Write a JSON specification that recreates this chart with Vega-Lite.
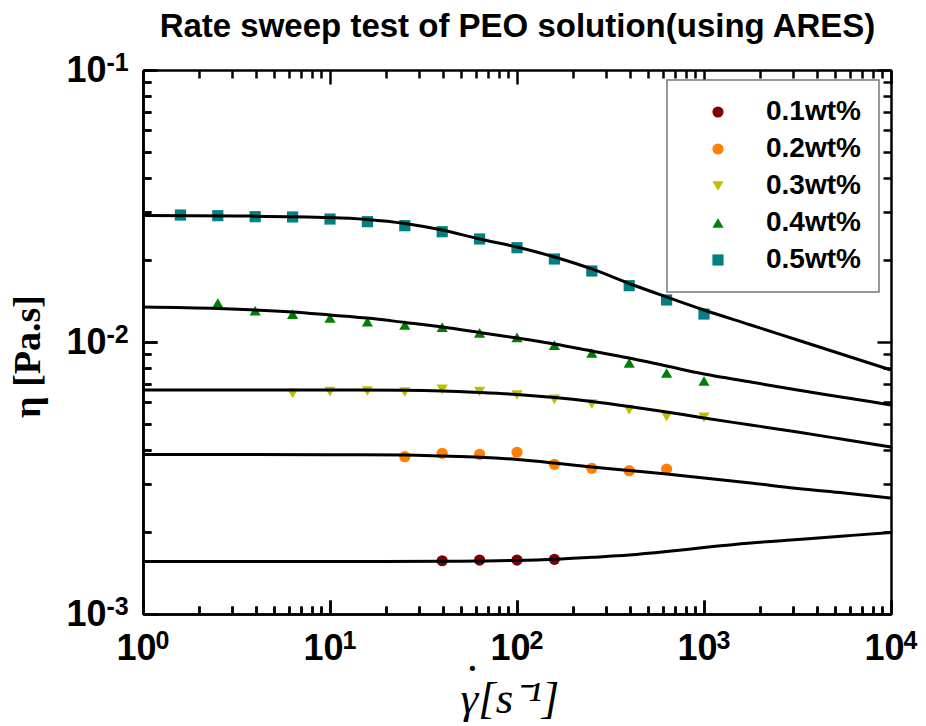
{
  "$schema": "https://vega.github.io/schema/vega-lite/v6.json",
  "width": 748,
  "height": 544,
  "autosize": {"type": "none"},
  "padding": {"left": 143, "top": 70, "right": 35, "bottom": 112},
  "background": "white",
  "datasets": {
    "fit": [
      {"series": "0.5wt%", "x": 1, "eta": 0.02918},
      {"series": "0.5wt%", "x": 3.162, "eta": 0.02906},
      {"series": "0.5wt%", "x": 10, "eta": 0.02869},
      {"series": "0.5wt%", "x": 15.85, "eta": 0.02821},
      {"series": "0.5wt%", "x": 25.12, "eta": 0.02727},
      {"series": "0.5wt%", "x": 39.81, "eta": 0.0258},
      {"series": "0.5wt%", "x": 63.1, "eta": 0.02392},
      {"series": "0.5wt%", "x": 100, "eta": 0.02235},
      {"series": "0.5wt%", "x": 158.5, "eta": 0.02054},
      {"series": "0.5wt%", "x": 251.2, "eta": 0.01856},
      {"series": "0.5wt%", "x": 398.1, "eta": 0.01641},
      {"series": "0.5wt%", "x": 631, "eta": 0.01464},
      {"series": "0.5wt%", "x": 1000, "eta": 0.01311},
      {"series": "0.5wt%", "x": 1778, "eta": 0.01155},
      {"series": "0.5wt%", "x": 3162, "eta": 0.01017},
      {"series": "0.5wt%", "x": 5623, "eta": 0.008957},
      {"series": "0.5wt%", "x": 10000, "eta": 0.007892},
      {"series": "0.4wt%", "x": 1, "eta": 0.01345},
      {"series": "0.4wt%", "x": 2.512, "eta": 0.01328},
      {"series": "0.4wt%", "x": 6.31, "eta": 0.01289},
      {"series": "0.4wt%", "x": 10, "eta": 0.01257},
      {"series": "0.4wt%", "x": 15.85, "eta": 0.01225},
      {"series": "0.4wt%", "x": 25.12, "eta": 0.0118},
      {"series": "0.4wt%", "x": 39.81, "eta": 0.01135},
      {"series": "0.4wt%", "x": 63.1, "eta": 0.01084},
      {"series": "0.4wt%", "x": 100, "eta": 0.01034},
      {"series": "0.4wt%", "x": 158.5, "eta": 0.009831},
      {"series": "0.4wt%", "x": 251.2, "eta": 0.009267},
      {"series": "0.4wt%", "x": 398.1, "eta": 0.008732},
      {"series": "0.4wt%", "x": 631, "eta": 0.00816},
      {"series": "0.4wt%", "x": 1000, "eta": 0.007627},
      {"series": "0.4wt%", "x": 1778, "eta": 0.007126},
      {"series": "0.4wt%", "x": 3162, "eta": 0.006661},
      {"series": "0.4wt%", "x": 5623, "eta": 0.006252},
      {"series": "0.4wt%", "x": 10000, "eta": 0.005868},
      {"series": "0.3wt%", "x": 1, "eta": 0.006661},
      {"series": "0.3wt%", "x": 10, "eta": 0.006661},
      {"series": "0.3wt%", "x": 25.12, "eta": 0.006644},
      {"series": "0.3wt%", "x": 39.81, "eta": 0.006606},
      {"series": "0.3wt%", "x": 63.1, "eta": 0.006521},
      {"series": "0.3wt%", "x": 100, "eta": 0.006412},
      {"series": "0.3wt%", "x": 158.5, "eta": 0.006252},
      {"series": "0.3wt%", "x": 251.2, "eta": 0.006043},
      {"series": "0.3wt%", "x": 398.1, "eta": 0.005794},
      {"series": "0.3wt%", "x": 631, "eta": 0.005529},
      {"series": "0.3wt%", "x": 1000, "eta": 0.005254},
      {"series": "0.3wt%", "x": 1778, "eta": 0.004954},
      {"series": "0.3wt%", "x": 3162, "eta": 0.004667},
      {"series": "0.3wt%", "x": 5623, "eta": 0.004381},
      {"series": "0.3wt%", "x": 10000, "eta": 0.004111},
      {"series": "0.2wt%", "x": 1, "eta": 0.003859},
      {"series": "0.2wt%", "x": 10, "eta": 0.003853},
      {"series": "0.2wt%", "x": 25.12, "eta": 0.003843},
      {"series": "0.2wt%", "x": 39.81, "eta": 0.00381},
      {"series": "0.2wt%", "x": 63.1, "eta": 0.003769},
      {"series": "0.2wt%", "x": 100, "eta": 0.003698},
      {"series": "0.2wt%", "x": 158.5, "eta": 0.00359},
      {"series": "0.2wt%", "x": 251.2, "eta": 0.00347},
      {"series": "0.2wt%", "x": 398.1, "eta": 0.00337},
      {"series": "0.2wt%", "x": 631, "eta": 0.003271},
      {"series": "0.2wt%", "x": 1000, "eta": 0.003162},
      {"series": "0.2wt%", "x": 1778, "eta": 0.00303},
      {"series": "0.2wt%", "x": 3162, "eta": 0.002893},
      {"series": "0.2wt%", "x": 5623, "eta": 0.002785},
      {"series": "0.2wt%", "x": 10000, "eta": 0.00267},
      {"series": "0.1wt%", "x": 1, "eta": 0.00156},
      {"series": "0.1wt%", "x": 10, "eta": 0.00156},
      {"series": "0.1wt%", "x": 39.81, "eta": 0.001562},
      {"series": "0.1wt%", "x": 63.1, "eta": 0.001566},
      {"series": "0.1wt%", "x": 100, "eta": 0.001573},
      {"series": "0.1wt%", "x": 158.5, "eta": 0.001589},
      {"series": "0.1wt%", "x": 251.2, "eta": 0.001616},
      {"series": "0.1wt%", "x": 398.1, "eta": 0.001648},
      {"series": "0.1wt%", "x": 631, "eta": 0.001697},
      {"series": "0.1wt%", "x": 1000, "eta": 0.001756},
      {"series": "0.1wt%", "x": 1778, "eta": 0.001824},
      {"series": "0.1wt%", "x": 3162, "eta": 0.001879},
      {"series": "0.1wt%", "x": 5623, "eta": 0.001936},
      {"series": "0.1wt%", "x": 10000, "eta": 0.001994}
    ],
    "meas": [
      {"series": "0.1wt%", "x": 39.81, "eta": 0.00157},
      {"series": "0.1wt%", "x": 63.1, "eta": 0.001579},
      {"series": "0.1wt%", "x": 100, "eta": 0.001579},
      {"series": "0.1wt%", "x": 158.5, "eta": 0.001589},
      {"series": "0.2wt%", "x": 25.12, "eta": 0.003787},
      {"series": "0.2wt%", "x": 39.81, "eta": 0.003898},
      {"series": "0.2wt%", "x": 63.1, "eta": 0.003865},
      {"series": "0.2wt%", "x": 100, "eta": 0.003932},
      {"series": "0.2wt%", "x": 158.5, "eta": 0.003551},
      {"series": "0.2wt%", "x": 251.2, "eta": 0.003433},
      {"series": "0.2wt%", "x": 398.1, "eta": 0.003364},
      {"series": "0.2wt%", "x": 631, "eta": 0.003412},
      {"series": "0.3wt%", "x": 6.31, "eta": 0.006477},
      {"series": "0.3wt%", "x": 10, "eta": 0.006566},
      {"series": "0.3wt%", "x": 15.85, "eta": 0.006605},
      {"series": "0.3wt%", "x": 25.12, "eta": 0.006549},
      {"series": "0.3wt%", "x": 39.81, "eta": 0.0067},
      {"series": "0.3wt%", "x": 63.1, "eta": 0.006566},
      {"series": "0.3wt%", "x": 100, "eta": 0.006384},
      {"series": "0.3wt%", "x": 158.5, "eta": 0.006154},
      {"series": "0.3wt%", "x": 251.2, "eta": 0.005916},
      {"series": "0.3wt%", "x": 398.1, "eta": 0.005623},
      {"series": "0.3wt%", "x": 631, "eta": 0.005313},
      {"series": "0.3wt%", "x": 1000, "eta": 0.005286},
      {"series": "0.4wt%", "x": 2.512, "eta": 0.01391},
      {"series": "0.4wt%", "x": 3.981, "eta": 0.01303},
      {"series": "0.4wt%", "x": 6.31, "eta": 0.01267},
      {"series": "0.4wt%", "x": 10, "eta": 0.01225},
      {"series": "0.4wt%", "x": 15.85, "eta": 0.01187},
      {"series": "0.4wt%", "x": 25.12, "eta": 0.01155},
      {"series": "0.4wt%", "x": 39.81, "eta": 0.01135},
      {"series": "0.4wt%", "x": 63.1, "eta": 0.01081},
      {"series": "0.4wt%", "x": 100, "eta": 0.0104},
      {"series": "0.4wt%", "x": 158.5, "eta": 0.00974},
      {"series": "0.4wt%", "x": 251.2, "eta": 0.00911},
      {"series": "0.4wt%", "x": 398.1, "eta": 0.00838},
      {"series": "0.4wt%", "x": 631, "eta": 0.00769},
      {"series": "0.4wt%", "x": 1000, "eta": 0.00719},
      {"series": "0.5wt%", "x": 1.585, "eta": 0.0293},
      {"series": "0.5wt%", "x": 2.512, "eta": 0.02913},
      {"series": "0.5wt%", "x": 3.981, "eta": 0.02889},
      {"series": "0.5wt%", "x": 6.31, "eta": 0.02882},
      {"series": "0.5wt%", "x": 10, "eta": 0.02832},
      {"series": "0.5wt%", "x": 15.85, "eta": 0.02769},
      {"series": "0.5wt%", "x": 25.12, "eta": 0.02677},
      {"series": "0.5wt%", "x": 39.81, "eta": 0.02544},
      {"series": "0.5wt%", "x": 63.1, "eta": 0.02392},
      {"series": "0.5wt%", "x": 100, "eta": 0.02222},
      {"series": "0.5wt%", "x": 158.5, "eta": 0.02019},
      {"series": "0.5wt%", "x": 251.2, "eta": 0.01824},
      {"series": "0.5wt%", "x": 398.1, "eta": 0.01611},
      {"series": "0.5wt%", "x": 631, "eta": 0.01427},
      {"series": "0.5wt%", "x": 1000, "eta": 0.01267}
    ]
  },
  "layer": [
    {
      "data": {"name": "meas"},
      "mark": {"type": "point", "filled": true, "opacity": 1},
      "encoding": {
        "x": {
          "field": "x", "type": "quantitative",
          "scale": {"type": "log", "domain": [1, 10000]},
          "axis": {
            "orient": "top", "labels": false,
            "values": [1,2,3,4,5,6,7,8,9,10,20,30,40,50,60,70,80,90,100,200,300,400,500,600,700,800,900,1000,2000,3000,4000,5000,6000,7000,8000,9000,10000],
            "tickSize": {"condition": {"test": "abs(log(datum.value)/LN10 - round(log(datum.value)/LN10)) < 1e-6", "value": -14}, "value": -8},
            "title": "Rate sweep test of PEO solution(using ARES)",
            "titleFont": "Liberation Sans",
            "titleFontSize": 33,
            "titleFontWeight": "bold",
            "titleAlign": "center",
            "titleBaseline": "alphabetic",
            "titleX": 374,
            "titleY": -34
          }
        },
        "y": {
          "field": "eta", "type": "quantitative",
          "scale": {"type": "log", "domain": [0.001, 0.1]},
          "axis": {
            "orient": "right", "labels": false, "title": null,
            "values": [0.001,0.002,0.003,0.004,0.005,0.006,0.007,0.008,0.009,0.01,0.02,0.03,0.04,0.05,0.06,0.07,0.08,0.09,0.1],
            "tickSize": {"condition": {"test": "abs(log(datum.value)/LN10 - round(log(datum.value)/LN10)) < 1e-6", "value": -14}, "value": -8}
          }
        },
        "color": {
          "field": "series", "type": "nominal",
          "scale": {"domain": ["0.1wt%", "0.2wt%", "0.3wt%", "0.4wt%", "0.5wt%"], "range": ["#7f0000", "#ff8000", "#bfbf00", "#008000", "#008080"]},
          "legend": {"title": null, "orient": "none", "legendX": 524, "legendY": 10}
        },
        "shape": {
          "field": "series", "type": "nominal",
          "scale": {"domain": ["0.1wt%", "0.2wt%", "0.3wt%", "0.4wt%", "0.5wt%"], "range": ["circle", "circle", "triangle-down", "triangle-up", "square"]},
          "legend": {"title": null, "orient": "none", "legendX": 524, "legendY": 10}
        },
        "size": {
          "field": "series", "type": "nominal",
          "scale": {"domain": ["0.1wt%", "0.2wt%", "0.3wt%", "0.4wt%", "0.5wt%"], "range": [125, 125, 190, 190, 160]},
          "legend": null
        }
      }
    },
    {
      "data": {"name": "meas"},
      "mark": {"type": "point", "filled": true, "opacity": 0},
      "encoding": {
        "x": {
          "field": "x", "type": "quantitative",
          "scale": {"type": "log", "domain": [1, 10000]},
          "axis": {
            "orient": "bottom",
            "values": [1,2,3,4,5,6,7,8,9,10,20,30,40,50,60,70,80,90,100,200,300,400,500,600,700,800,900,1000,2000,3000,4000,5000,6000,7000,8000,9000,10000],
            "labelExpr": "abs(log(datum.value)/LN10 - round(log(datum.value)/LN10)) < 1e-6 ? '' + round(log(datum.value)/LN10) : ''",
            "tickSize": {"condition": {"test": "abs(log(datum.value)/LN10 - round(log(datum.value)/LN10)) < 1e-6", "value": -14}, "value": -8},
            "labelFontSize": 25,
            "labelAlign": "left",
            "labelOffset": 12,
            "labelPadding": 28,
            "title": ".",
            "titleFont": "Liberation Serif",
            "titleFontStyle": "italic",
            "titleFontWeight": "normal",
            "titleFontSize": 44,
            "titleBaseline": "alphabetic",
            "titleAlign": "center",
            "titleX": 330,
            "titleY": 56
          }
        },
        "y": {
          "field": "eta", "type": "quantitative",
          "scale": {"type": "log", "domain": [0.001, 0.1]},
          "axis": {
            "orient": "left", "title": null,
            "values": [0.001,0.002,0.003,0.004,0.005,0.006,0.007,0.008,0.009,0.01,0.02,0.03,0.04,0.05,0.06,0.07,0.08,0.09,0.1],
            "labelExpr": "abs(log(datum.value)/LN10 - round(log(datum.value)/LN10)) < 1e-6 ? '' + round(log(datum.value)/LN10) : ''",
            "tickSize": {"condition": {"test": "abs(log(datum.value)/LN10 - round(log(datum.value)/LN10)) < 1e-6", "value": -14}, "value": -8},
            "labelFontSize": 25,
            "labelAlign": "left",
            "labelOffset": -8,
            "labelPadding": 51
          }
        }
      }
    },
    {
      "data": {"name": "fit"},
      "mark": {"type": "line", "color": "black", "strokeWidth": 3, "interpolate": "monotone"},
      "encoding": {
        "x": {
          "field": "x", "type": "quantitative",
          "scale": {"type": "log", "domain": [1, 10000]},
          "axis": {
            "orient": "bottom",
            "values": [1,2,3,4,5,6,7,8,9,10,20,30,40,50,60,70,80,90,100,200,300,400,500,600,700,800,900,1000,2000,3000,4000,5000,6000,7000,8000,9000,10000],
            "labelExpr": "abs(log(datum.value)/LN10 - round(log(datum.value)/LN10)) < 1e-6 ? '10' : ''",
            "tickSize": {"condition": {"test": "abs(log(datum.value)/LN10 - round(log(datum.value)/LN10)) < 1e-6", "value": -14}, "value": -8},
            "labelAlign": "center",
            "labelOffset": -7,
            "labelPadding": 31,
            "title": "γ[s⁻¹]",
            "titleFont": "Liberation Serif",
            "titleFontStyle": "italic",
            "titleFontWeight": "normal",
            "titleFontSize": 45,
            "titleBaseline": "alphabetic",
            "titleAlign": "left",
            "titleX": 317,
            "titleY": 98
          }
        },
        "y": {
          "field": "eta", "type": "quantitative",
          "scale": {"type": "log", "domain": [0.001, 0.1]},
          "axis": {
            "orient": "left",
            "values": [0.001,0.002,0.003,0.004,0.005,0.006,0.007,0.008,0.009,0.01,0.02,0.03,0.04,0.05,0.06,0.07,0.08,0.09,0.1],
            "labelExpr": "abs(log(datum.value)/LN10 - round(log(datum.value)/LN10)) < 1e-6 ? '10' : ''",
            "tickSize": {"condition": {"test": "abs(log(datum.value)/LN10 - round(log(datum.value)/LN10)) < 1e-6", "value": -14}, "value": -8},
            "labelAlign": "right",
            "labelPadding": 51,
            "title": "η [Pa.s]",
            "titleFont": "Liberation Serif",
            "titleFontWeight": "bold",
            "titleFontSize": 38,
            "titleAngle": -90,
            "titleAlign": "center",
            "titleBaseline": "middle",
            "titleX": -115,
            "titleY": 286
          }
        },
        "detail": {"field": "series", "type": "nominal"}
      }
    }
  ],
  "resolve": {"axis": {"x": "independent", "y": "independent"}},
  "config": {
    "view": {"stroke": null},
    "axis": {
      "grid": false,
      "domainColor": "black",
      "domainWidth": 2.5,
      "tickColor": "black",
      "tickWidth": 2.5,
      "labelFont": "Liberation Sans",
      "labelFontWeight": "bold",
      "labelFontSize": 36,
      "labelColor": "black",
      "labelFlush": false,
      "labelOverlap": false,
      "labelBound": false,
      "titleColor": "black"
    },
    "legend": {
      "fillColor": "white",
      "strokeColor": "#777777",
      "strokeWidth": 1.5,
      "padding": 18,
      "symbolOffset": 19,
      "labelOffset": 34,
      "labelFont": "Liberation Sans",
      "labelFontWeight": "bold",
      "labelFontSize": 28,
      "labelColor": "black",
      "symbolSize": 150,
      "rowPadding": 9,
      "symbolStrokeWidth": 0
    }
  }
}
